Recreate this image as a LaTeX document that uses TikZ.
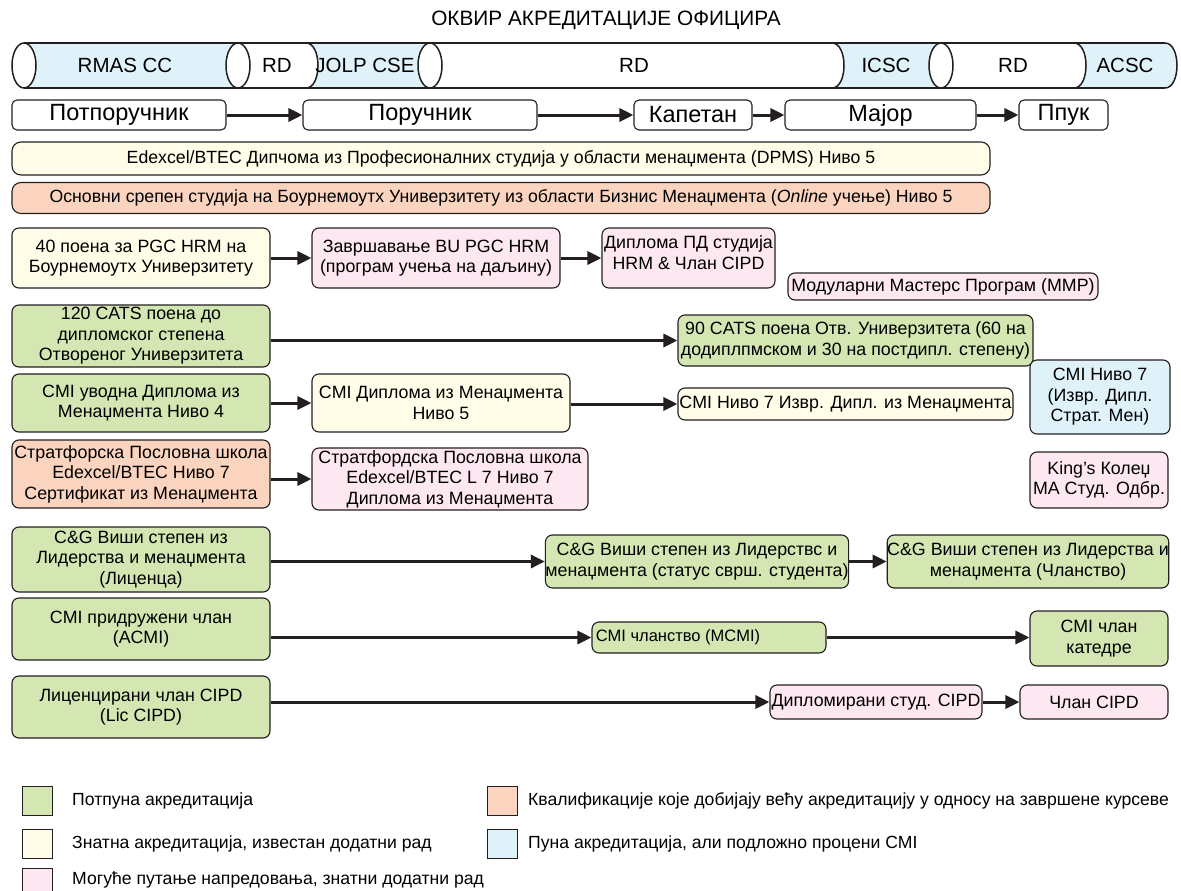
\documentclass[tikz,border=0pt]{standalone}
\usepackage{fontspec}
\setmainfont{Liberation Sans}
\usetikzlibrary{arrows.meta}
\definecolor{cgreen}{RGB}{212,230,178}
\definecolor{cyellow}{RGB}{255,252,232}
\definecolor{cpink}{RGB}{253,231,241}
\definecolor{csalmon}{RGB}{251,212,192}
\definecolor{cblue}{RGB}{223,242,250}
\definecolor{cline}{RGB}{35,31,32}
\newcommand{\fs}[2]{\fontsize{#1pt}{#2pt}\selectfont}
\begin{document}
\begin{tikzpicture}[x=1pt,y=-1pt,
  box/.style={draw=cline, line width=1.1pt, rounded corners=7pt, align=center, inner sep=0pt, font=\fs{17.8}{20.5}},
  rank/.style={box, fill=white, rounded corners=5pt, font=\fs{23.5}{26}},
  wide/.style={box, rounded corners=9pt, font=\fs{17.7}{20}},
  cyl/.style={inner sep=0pt, font=\fs{20.5}{24}},
  arr/.style={draw=cline, line width=3pt, -{Triangle[length=14pt,width=13pt]}},
  legsq/.style={draw=cline, line width=1pt, minimum width=30pt, minimum height=29pt, inner sep=0pt},
  legtx/.style={anchor=west, inner sep=0pt, font=\fs{17.6}{20}}
]
\clip (0,0) rectangle (1181,891);
\fill[white] (0,0) rectangle (1181,891);

% title
\node[font=\fs{20.8}{24}] (title) at (606,20) {ОКВИР АКРЕДИТАЦИЈЕ ОФИЦИРА};

% cylinder band
\fill[cblue] (24,43) rectangle (238,88);
\fill[cblue] (306,43) rectangle (430,88);
\fill[cblue] (832,43) rectangle (941,88);
\fill[cblue] (1074,43) -- (1165,43) .. controls (1181,43) and (1181,88) .. (1165,88) -- (1074,88) -- cycle;
\fill[white] (238,43) -- (306,43) .. controls (322,43) and (322,88) .. (306,88) -- (238,88) -- cycle;
\fill[white] (430,43) -- (832,43) .. controls (848,43) and (848,88) .. (832,88) -- (430,88) -- cycle;
\fill[white] (941,43) -- (1074,43) .. controls (1090,43) and (1090,88) .. (1074,88) -- (941,88) -- cycle;
\begin{scope}[draw=cline, line width=1.5pt]
\draw (24,43) -- (1165,43);
\draw (24,88) -- (1165,88);
\draw (306,43) .. controls (322,43) and (322,88) .. (306,88);
\draw (832,43) .. controls (848,43) and (848,88) .. (832,88);
\draw (1074,43) .. controls (1090,43) and (1090,88) .. (1074,88);
\draw (1165,43) .. controls (1181,43) and (1181,88) .. (1165,88);
\filldraw[fill=white] (24,65.5) ellipse [x radius=12, y radius=22.5];
\filldraw[fill=white] (238,65.5) ellipse [x radius=12, y radius=22.5];
\filldraw[fill=white] (430,65.5) ellipse [x radius=12, y radius=22.5];
\filldraw[fill=white] (941,65.5) ellipse [x radius=12, y radius=22.5];
\end{scope}
\node[cyl] (t1) at (125,65.5) {RMAS CC};
\node[cyl] (t2) at (277,65.5) {RD};
\node[cyl] (t3) at (365,65.5) {JOLP CSE};
\node[cyl] (t4) at (634,65.5) {RD};
\node[cyl] (t5) at (886,65.5) {ICSC};
\node[cyl] (t6) at (1013,65.5) {RD};
\node[cyl] (t7) at (1125,65.5) {ACSC};

% ranks
\node[rank, minimum width=214pt, minimum height=30pt] (r1) at (119,115) {Потпоручник};
\node[rank, minimum width=234pt, minimum height=30pt] (r2) at (420,115) {Поручник};
\node[rank, minimum width=118pt, minimum height=30pt] (r3) at (693,115) {Капетан};
\node[rank, minimum width=191pt, minimum height=30pt] (r4) at (880.5,115) {Мајор};
\node[rank, minimum width=89pt, minimum height=30pt] (r5) at (1063.5,115) {Ппук};
\draw[arr] (r1) -- (r2);
\draw[arr] (r2) -- (r3);
\draw[arr] (r3) -- (r4);
\draw[arr] (r4) -- (r5);

% wide rows
\node[wide, fill=cyellow, minimum width=978pt, minimum height=33pt] (w1) at (501,158.5) {Edexcel/BTEC Дипчома из Професионалних студија у области менаџмента (DPMS) Ниво 5};
\node[wide, fill=csalmon, minimum width=978pt, minimum height=31pt] (w2) at (501,198) {Основни срепен студија на Боурнемоутх Универзитету из области Бизнис Менаџмента (\textit{Online} учење) Ниво 5};

% row 3
\node[box, fill=cyellow, minimum width=258pt, minimum height=60pt] (a1) at (141,258) {40 поена за PGC HRM на\\Боурнемоутх Универзитету};
\node[box, fill=cpink, minimum width=248pt, minimum height=60pt] (a2) at (436,258) {Завршавање BU PGC HRM\\(програм учења на даљину)};
\node[box, fill=cpink, minimum width=173pt, minimum height=60pt] (a3) at (688.5,258) {Диплома ПД студија\\HRM \& Члан CIPD\\[-10pt]\mbox{}};
\node[box, fill=cpink, minimum width=310pt, minimum height=27pt] (mmp) at (943,286.5) {Модуларни Мастерс Програм (MMP)};
\draw[arr] (a1) -- (a2);
\draw[arr] (a2) -- (a3);

% row 4
\node[box, fill=cgreen, minimum width=258pt, minimum height=62pt] (b1) at (141,336) {120 CATS поена до\\дипломског степена\\Отвореног Универзитета};
\node[box, fill=cgreen, minimum width=355pt, minimum height=51pt] (b2) at (855.5,340.5) {90 CATS поена Отв. Универзитета (60 на\\додиплпмском и 30 на постдипл. степену)};
\draw[arr] (b1.east |- b2) -- (b2.west);

% row 5
\node[box, fill=cgreen, minimum width=258pt, minimum height=58pt] (c1) at (141,403) {CMI уводна Диплома из\\Менаџмента Ниво 4};
\node[box, fill=cyellow, minimum width=258pt, minimum height=58pt] (c2) at (441,403) {CMI Диплома из Менаџмента\\Ниво 5};
\node[box, fill=cyellow, minimum width=335pt, minimum height=32pt] (c3) at (845.5,404) {CMI Ниво 7 Извр. Дипл. из Менаџмента};
\node[box, fill=cblue, minimum width=140pt, minimum height=74pt] (cmi7) at (1100,397) {CMI Ниво 7\\(Извр. Дипл.\\Страт. Мен)};
\draw[arr] (c1) -- (c2);
\draw[arr] (c2.east |- c3) -- (c3.west);

% row 6
\node[box, fill=csalmon, minimum width=258pt, minimum height=68pt] (d1) at (141,474) {Стратфорска Пословна школа\\Edexcel/BTEC Ниво 7\\Сертификат из Менаџмента};
\node[box, fill=cpink, minimum width=276pt, minimum height=62pt] (d2) at (450,479) {Стратфордска Пословна школа\\Edexcel/BTEC L 7 Ниво 7\\Диплома из Менаџмента};
\node[box, fill=cpink, minimum width=138pt, minimum height=56pt] (kings) at (1099,480) {King’s Колеџ\\MA Студ. Одбр.};
\draw[arr] (d1.east |- d2) -- (d2.west);

% row 7
\node[box, fill=cgreen, minimum width=258pt, minimum height=65pt] (e1) at (141,559.5) {C\&G Виши степен из\\Лидерства и менаџмента\\(Лиценца)};
\node[box, fill=cgreen, minimum width=300pt, minimum height=53pt] (e2) at (697,561.5) {C\&G Виши степен из Лидерствс и\\менаџмента (статус сврш. студента)};
\node[box, fill=cgreen, minimum width=280pt, minimum height=53pt] (e3) at (1028,561.5) {C\&G Виши степен из Лидерства и\\менаџмента (Чланство)};
\draw[arr] (e1.east |- e2) -- (e2.west);
\draw[arr] (e2) -- (e3);

% row 8
\node[box, fill=cgreen, minimum width=258pt, minimum height=62pt] (f1) at (141,629) {CMI придружени члан\\(ACMI)};
\node[box, fill=cgreen, minimum width=234pt, minimum height=31pt, font=\fs{16.5}{19}] (f2) at (709,637.5) {\raisebox{4pt}{CMI чланство (MCMI)}\hspace*{62pt}};
\node[box, fill=cgreen, minimum width=138pt, minimum height=55pt] (f3) at (1099,638.5) {CMI члан\\катедре};
\draw[arr] (f1.east |- f2) -- (f2.west);
\draw[arr] (f2) -- (f3.west |- f2);

% row 9
\node[box, fill=cgreen, minimum width=258pt, minimum height=62pt] (g1) at (141,707) {Лиценцирани члан CIPD\\(Lic CIPD)};
\node[box, fill=cpink, minimum width=212pt, minimum height=34pt] (g2) at (876,702) {Дипломирани студ. CIPD};
\node[box, fill=cpink, minimum width=148pt, minimum height=34pt] (g3) at (1094,702) {Члан CIPD};
\draw[arr] (g1.east |- g2) -- (g2.west);
\draw[arr] (g2) -- (g3);

% legend
\node[legsq, fill=cgreen] (l1) at (37,800.5) {};
\node[legtx] (lt1) at (72,800.5) {Потпуна акредитација};
\node[legsq, fill=cyellow] (l2) at (37,843.5) {};
\node[legtx] (lt2) at (72,843.5) {Знатна акредитација, известан додатни рад};
\node[legsq, fill=cpink] (l3) at (37,882.5) {};
\node[legtx] (lt3) at (72,880) {Могуће путање напредовања, знатни додатни рад};
\node[legsq, fill=csalmon] (l4) at (502,800.5) {};
\node[legtx] (lt4) at (528,800.5) {Квалификације које добијају већу акредитацију у односу на завршене курсеве};
\node[legsq, fill=cblue] (l5) at (502,843.5) {};
\node[legtx] (lt5) at (528,843.5) {Пуна акредитација, али подложно процени CMI};
\end{tikzpicture}
\end{document}
